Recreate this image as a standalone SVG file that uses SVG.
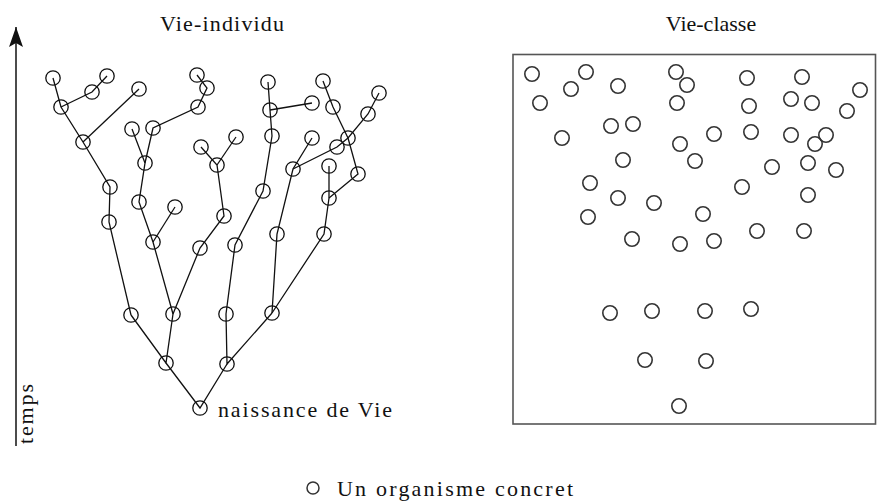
<svg xmlns="http://www.w3.org/2000/svg" width="877" height="502" viewBox="0 0 877 502">
<style>
text{font-family:"Liberation Serif","Times New Roman",serif;font-size:22px;fill:#111}
.e line,.e polyline{stroke:#111;stroke-width:1.3;fill:none}
.t use{fill:none;stroke:#111;stroke-width:1.3}
.c use{fill:none;stroke:#333;stroke-width:1.6}
</style>
<defs>
<marker id="ah" markerWidth="22" markerHeight="16" viewBox="0 0 22 16" refX="21" refY="8" orient="auto" markerUnits="userSpaceOnUse">
<path d="M21 8 L1 1 L5 8 L1 15 Z" fill="#111"/>
</marker>
<circle id="o" r="7.2"/>
</defs>
<rect width="877" height="502" fill="#fff"/>
<g id="axis">
<line x1="16" y1="446" x2="16" y2="27" stroke="#111" stroke-width="1.5" marker-end="url(#ah)"/>
<text x="33" y="444" transform="rotate(-90 33 444)" textLength="60" lengthAdjust="spacing">temps</text>
</g>
<text id="title-individu" x="160" y="31" textLength="124" lengthAdjust="spacing">Vie-individu</text>
<text id="title-classe" x="711" y="31" text-anchor="middle">Vie-classe</text>
<g id="connectors" class="e">
<polyline points="166,363 200,408 227,364"/>
<polyline points="131,315 166,363 173,314"/>
<polyline points="226,314 227,364 272,313"/>
<polyline points="131,315 109,222 110,187 83,142 61,107 53,78"/>
<polyline points="61,107 92,92 107,76"/>
<line x1="83" y1="142" x2="139" y2="89"/>
<polyline points="173,314 153,242 139,202 145,163 132,129"/>
<polyline points="145,163 153,128 198,107 207,88 197,75"/>
<line x1="153" y1="242" x2="175" y2="207"/>
<polyline points="173,314 200,248 224,216 217,165 201,147"/>
<line x1="217" y1="165" x2="236" y2="137"/>
<polyline points="226,314 235,245 263,191 272,136 270,110 268,82"/>
<line x1="270" y1="110" x2="312" y2="103"/>
<polyline points="272,313 277,234 293,169 312,138"/>
<polyline points="293,169 337,147 348,138 368,114 379,93"/>
<polyline points="348,138 333,107 323,81"/>
<polyline points="348,138 358,174 329,198"/>
<polyline points="272,313 324,234 329,198 329,166"/>
</g>
<g id="tree-nodes" class="t">
<use href="#o" x="200" y="408"/>
<use href="#o" x="166" y="363"/><use href="#o" x="227" y="364"/>
<use href="#o" x="131" y="315"/><use href="#o" x="173" y="314"/><use href="#o" x="226" y="314"/><use href="#o" x="272" y="313"/>
<use href="#o" x="109" y="222"/><use href="#o" x="110" y="187"/><use href="#o" x="83" y="142"/><use href="#o" x="61" y="107"/><use href="#o" x="53" y="78"/>
<use href="#o" x="92" y="92"/><use href="#o" x="107" y="76"/><use href="#o" x="139" y="89"/>
<use href="#o" x="153" y="242"/><use href="#o" x="139" y="202"/><use href="#o" x="145" y="163"/><use href="#o" x="132" y="129"/>
<use href="#o" x="153" y="128"/><use href="#o" x="198" y="107"/><use href="#o" x="207" y="88"/><use href="#o" x="197" y="75"/>
<use href="#o" x="175" y="207"/>
<use href="#o" x="200" y="248"/><use href="#o" x="224" y="216"/><use href="#o" x="217" y="165"/><use href="#o" x="201" y="147"/><use href="#o" x="236" y="137"/>
<use href="#o" x="235" y="245"/><use href="#o" x="263" y="191"/><use href="#o" x="272" y="136"/><use href="#o" x="270" y="110"/><use href="#o" x="268" y="82"/><use href="#o" x="312" y="103"/>
<use href="#o" x="277" y="234"/><use href="#o" x="293" y="169"/><use href="#o" x="312" y="138"/>
<use href="#o" x="337" y="147"/><use href="#o" x="348" y="138"/><use href="#o" x="368" y="114"/><use href="#o" x="379" y="93"/>
<use href="#o" x="333" y="107"/><use href="#o" x="323" y="81"/><use href="#o" x="358" y="174"/><use href="#o" x="329" y="198"/>
<use href="#o" x="324" y="234"/><use href="#o" x="329" y="166"/>
</g>
<text id="label-naissance" x="218" y="417" textLength="174" lengthAdjust="spacing">naissance de Vie</text>
<g id="classe">
<rect x="513" y="54.5" width="362.5" height="369.5" fill="none" stroke="#555" stroke-width="1.6"/>
<g class="c">
<use href="#o" x="532" y="74"/><use href="#o" x="586" y="72"/><use href="#o" x="571" y="89"/><use href="#o" x="618" y="86"/><use href="#o" x="540" y="103"/>
<use href="#o" x="676" y="72"/><use href="#o" x="687" y="85"/><use href="#o" x="677" y="103"/><use href="#o" x="611" y="126"/><use href="#o" x="633" y="124"/>
<use href="#o" x="562" y="138"/><use href="#o" x="680" y="144"/><use href="#o" x="623" y="160"/><use href="#o" x="695" y="161"/><use href="#o" x="590" y="183"/>
<use href="#o" x="618" y="198"/><use href="#o" x="654" y="203"/><use href="#o" x="588" y="217"/><use href="#o" x="747" y="78"/><use href="#o" x="802" y="77"/>
<use href="#o" x="860" y="90"/><use href="#o" x="749" y="106"/><use href="#o" x="791" y="99"/><use href="#o" x="812" y="103"/><use href="#o" x="847" y="111"/>
<use href="#o" x="714" y="134"/><use href="#o" x="751" y="132"/><use href="#o" x="791" y="135"/><use href="#o" x="826" y="135"/><use href="#o" x="815" y="144"/>
<use href="#o" x="772" y="167"/><use href="#o" x="808" y="163"/><use href="#o" x="836" y="170"/><use href="#o" x="742" y="187"/><use href="#o" x="808" y="195"/>
<use href="#o" x="703" y="214"/><use href="#o" x="757" y="231"/><use href="#o" x="804" y="231"/><use href="#o" x="714" y="241"/><use href="#o" x="632" y="239"/>
<use href="#o" x="680" y="244"/><use href="#o" x="610" y="313"/><use href="#o" x="652" y="311"/><use href="#o" x="705" y="311"/><use href="#o" x="751" y="309"/>
<use href="#o" x="645" y="360"/><use href="#o" x="706" y="361"/><use href="#o" x="679" y="406"/>
</g>
</g>
<g id="legend">
<circle cx="313" cy="488" r="6" fill="none" stroke="#333" stroke-width="1.5"/>
<text x="337" y="496" textLength="236" lengthAdjust="spacing">Un organisme concret</text>
</g>
</svg>
